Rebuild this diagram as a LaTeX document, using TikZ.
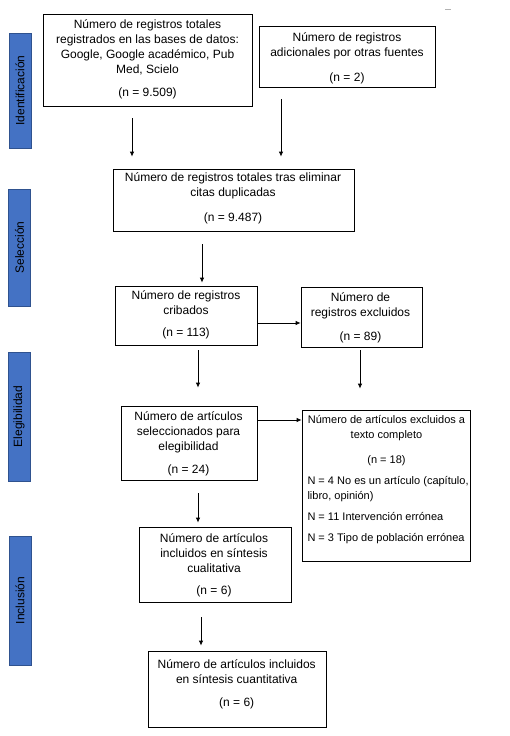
\documentclass[tikz,border=0pt]{standalone}
\usepackage{fontspec}
\setmainfont{Liberation Sans}
\usetikzlibrary{arrows.meta}
\definecolor{barblue}{HTML}{4472C4}
\definecolor{barline}{HTML}{2F528F}
\begin{document}
\begin{tikzpicture}[x=1pt,y=-1pt,
  box/.style={draw=black,line width=0.8pt,rectangle,inner sep=0pt},
  txt/.style={inner sep=0pt,align=center,font=\fontsize{12}{15}\selectfont},
  smalltxt/.style={inner sep=0pt,align=center,font=\fontsize{11}{15}\selectfont},
  bar/.style={draw=barline,fill=barblue,line width=0.8pt,rectangle,inner sep=0pt,
    minimum width=22pt,text=black,font=\fontsize{12}{15}\selectfont},
  arr/.style={draw=black,line width=0.8pt,-{Latex[length=5pt,width=4.5pt]}}]
\useasboundingbox[fill=white] (0,0) rectangle (509,736);
% stray mark
\draw[gray!60,line width=0.8pt] (445,9) -- (451,9);
% side bars
\node[bar,minimum height=115pt] (s1) at (20,90.5) {\rotatebox{90}{Identificación}};
\node[bar,minimum height=117pt] (s2) at (19.5,247.5) {\rotatebox{90}{Selección}};
\node[bar,minimum height=129pt] (s3) at (19,416.5) {\rotatebox{90}{Elegibilidad}};
\node[bar,minimum height=129pt] (s4) at (20,600.5) {\rotatebox{90}{Inclusión}};
% boxes
\node[box,minimum width=209pt,minimum height=92pt] (b1) at (147.5,60) {};
\node[box,minimum width=176pt,minimum height=61pt] (b2) at (347,56.5) {};
\node[box,minimum width=241pt,minimum height=62pt] (b3) at (233.5,200) {};
\node[box,minimum width=142pt,minimum height=59pt] (b4) at (186,315.5) {};
\node[box,minimum width=121pt,minimum height=60pt] (b5) at (361.5,317) {};
\node[box,minimum width=136pt,minimum height=74pt] (b6) at (189,443) {};
\node[box,minimum width=168pt,minimum height=151pt] (b7) at (386,485.5) {};
\node[box,minimum width=152pt,minimum height=75pt] (b8) at (215,564.5) {};
\node[box,minimum width=178pt,minimum height=76pt] (b9) at (237,689) {};
% texts
\node[txt] (t1) at (147.5,59.5) {Número de registros totales\\ registrados en las bases de datos:\\ Google, Google académico, Pub\\ Med, Scielo\\[8.3pt] (n = 9.509)};
\node[txt] (t2) at (347,58.3) {Número de registros\\ adicionales por otras fuentes\\[10.4pt] (n = 2)};
\node[txt] (t3) at (233,198.3) {Número de registros totales tras eliminar\\ citas duplicadas\\[10pt] (n = 9.487)};
\node[txt] (t4) at (186,315) {Número de registros\\ cribados\\[6.6pt] (n = 113)};
\node[txt] (t5) at (360.5,318) {Número de\\ registros excluidos\\[9.4pt] (n = 89)};
\node[txt] (t6) at (188.5,443.7) {Número de artículos\\ seleccionados para\\ elegibilidad\\[7.3pt] (n = 24)};
\node[smalltxt] (t7) at (386.5,479.5) {Número de artículos excluidos a\\ texto completo\\[10pt] (n = 18)\\[6.7pt]
  \makebox[158pt][l]{N = 4 No es un artículo (capítulo,}\\ \makebox[158pt][l]{libro, opinión)}\\[5.6pt]
  \makebox[158pt][l]{N = 11 Intervención errónea}\\[6pt] \makebox[158pt][l]{N = 3 Tipo de población errónea}};
\node[txt] (t8) at (214,565.3) {Número de artículos\\ incluidos en síntesis\\ cualitativa\\[6.7pt] (n = 6)};
\node[txt] (t9) at (236.7,684.5) {Número de artículos incluidos\\ en síntesis cuantitativa\\[8.3pt] (n = 6)};
% arrows
\draw[arr,shorten <=12pt,shorten >=12pt] ([xshift=-15.5pt]b1.south) -- ([xshift=-15.5pt]b1.south |- b3.north);
\draw[arr,shorten <=12pt,shorten >=12pt] ([xshift=-66pt]b2.south) -- ([xshift=-66pt]b2.south |- b3.north);
\draw[arr,shorten <=13pt,shorten >=3pt] ([xshift=-31.5pt]b3.south) -- ([xshift=-31.5pt]b3.south |- b4.north);
\draw[arr] ([yshift=-7.5pt]b4.east) -- ([yshift=-7.5pt]b4.east -| b5.west);
\draw[arr,shorten <=5pt,shorten >=18pt] ([xshift=12pt]b4.south) -- ([xshift=12pt]b4.south |- b6.north);
\draw[arr,shorten <=3pt,shorten >=21pt] ([xshift=-1.5pt]b5.south) -- ([xshift=-1.5pt]b5.south |- b7.north);
\draw[arr] ([yshift=23pt]b6.east) -- ([yshift=23pt]b6.east -| b7.west);
\draw[arr,shorten <=13pt,shorten >=4pt] ([xshift=9pt]b6.south) -- ([xshift=9pt]b6.south |- b8.north);
\draw[arr,shorten <=15pt,shorten >=5pt] ([xshift=-14pt]b8.south) -- ([xshift=-14pt]b8.south |- b9.north);
\end{tikzpicture}
\end{document}
